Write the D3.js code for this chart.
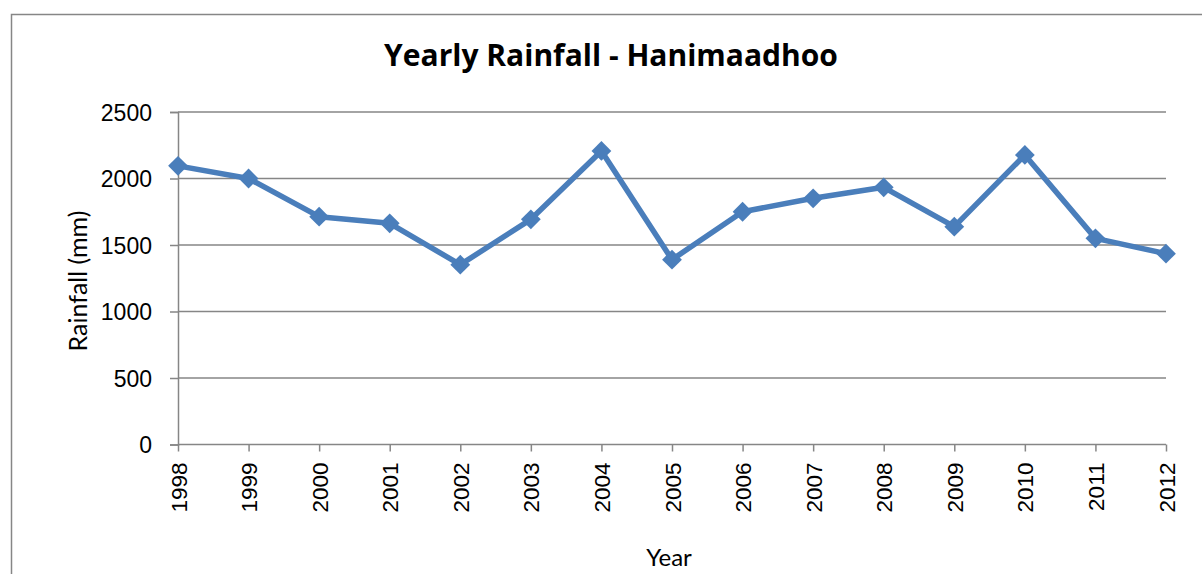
<!DOCTYPE html>
<html>
<head>
<meta charset="utf-8">
<script src="https://cdn.jsdelivr.net/npm/d3@7"></script>
<style>
  body { margin: 0; background: #fff; }
  svg { display: block; }
</style>
</head>
<body>
<svg id="chart" width="1202" height="574"></svg>
<script>
const years = [1998, 1999, 2000, 2001, 2002, 2003, 2004, 2005, 2006, 2007, 2008, 2009, 2010, 2011, 2012];
const rainfall = [2095, 2000, 1713, 1663, 1352, 1693, 2207, 1390, 1750, 1851, 1934, 1638, 2177, 1550, 1435];
const yTicks = [0, 500, 1000, 1500, 2000, 2500];

const svg = d3.select("#chart");
const plot = {left: 178, right: 1166, top: 112, bottom: 444.5};
const gray = "#868686";

// outer frame (runs off the picture to the right and bottom)
svg.append("rect")
    .attr("x", 11.5).attr("y", 14.5)
    .attr("width", 1202).attr("height", 600)
    .attr("fill", "none").attr("stroke", gray).attr("stroke-width", 1.5);

const x = d3.scalePoint().domain(years).range([plot.left, plot.right]);
const y = d3.scaleLinear().domain([0, 2500]).range([plot.bottom, plot.top]);

// gridlines
svg.append("g")
    .selectAll("line")
    .data(yTicks.filter(d => d > 0))
    .join("line")
    .attr("x1", plot.left).attr("x2", plot.right)
    .attr("y1", d => y(d)).attr("y2", d => y(d))
    .attr("stroke", gray).attr("stroke-width", 1.5);

// y axis
const yAxis = svg.append("g")
    .attr("transform", `translate(${plot.left},0)`)
    .call(d3.axisLeft(y).tickValues(yTicks).tickSize(8).tickPadding(8).tickFormat(d3.format("d")));
yAxis.select(".domain").attr("stroke", gray).attr("stroke-width", 1.5);
yAxis.selectAll(".tick line").attr("stroke", gray).attr("stroke-width", 1.5);
yAxis.selectAll("text")
    .attr("font-family", "Liberation Sans, Arial, sans-serif")
    .attr("font-size", 23).attr("fill", "#000").attr("x", -26).attr("dy", "0.36em");

// x axis
const xAxis = svg.append("g")
    .attr("transform", `translate(0,${plot.bottom})`)
    .call(d3.axisBottom(x).tickSize(7).tickSizeOuter(0));
xAxis.select(".domain").attr("stroke", gray).attr("stroke-width", 1.5)
    .attr("d", `M${plot.left},0H${plot.right}`);
xAxis.selectAll(".tick line").attr("stroke", gray).attr("stroke-width", 1.5);
xAxis.selectAll("text")
    .attr("font-family", "Liberation Sans, Arial, sans-serif")
    .attr("font-size", 22.5).attr("fill", "#000")
    .attr("transform", "rotate(-90)")
    .attr("text-anchor", "end")
    .attr("x", -18).attr("y", 0).attr("dy", "0.36em");

// series line
const line = d3.line().x((d, i) => x(years[i])).y(d => y(d));
svg.append("path")
    .datum(rainfall)
    .attr("d", line)
    .attr("fill", "none")
    .attr("stroke", "#4a7ebb")
    .attr("stroke-width", 5.5)
    .attr("stroke-linejoin", "round");

// diamond markers
svg.append("g")
    .selectAll("path")
    .data(rainfall)
    .join("path")
    .attr("d", d3.symbol().type(d3.symbolDiamond2).size(250))
    .attr("transform", (d, i) => `translate(${x(years[i])},${y(d)})`)
    .attr("fill", "#4a7ebb");

// title
svg.append("text")
    .attr("x", 611).attr("y", 66)
    .attr("text-anchor", "middle")
    .attr("font-family", "'Open Sans', Lato, sans-serif")
    .attr("font-weight", "bold")
    .attr("font-size", 30)
    .text("Yearly Rainfall - Hanimaadhoo");

// axis titles
svg.append("text")
    .attr("transform", "translate(87,281) rotate(-90)")
    .attr("text-anchor", "middle")
    .attr("font-family", "Lato, 'Open Sans', sans-serif")
    .attr("font-size", 25)
    .text("Rainfall (mm)");

svg.append("text")
    .attr("x", 669).attr("y", 566)
    .attr("text-anchor", "middle")
    .attr("font-family", "Lato, 'Open Sans', sans-serif")
    .attr("font-size", 24)
    .text("Year");
</script>
</body>
</html>
